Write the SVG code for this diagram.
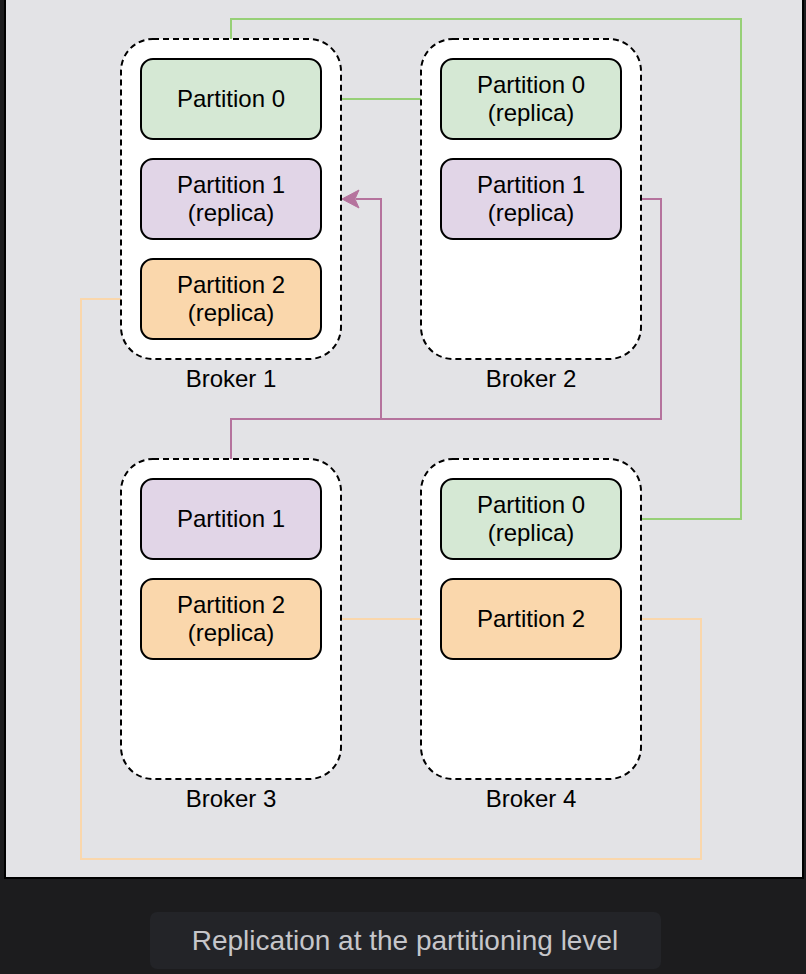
<svg xmlns="http://www.w3.org/2000/svg" width="806" height="974" viewBox="0 0 806 974">
<defs>
<style>
.broker{fill:#ffffff;stroke:#000000;stroke-width:2;stroke-dasharray:6 4}
.part{stroke:#000000;stroke-width:2}
.g{fill:#d5e8d4}
.p{fill:#e1d5e7}
.o{fill:#fad7ac}
.t{font-family:"Liberation Sans",Arial,Helvetica,sans-serif;font-size:24px;fill:#000000;text-anchor:middle}
.edge{fill:none;stroke-width:2}
</style>
</defs>
<rect x="0" y="0" width="806" height="974" fill="#1c1c1e"/>
<rect x="5" y="-2" width="798" height="880" fill="#e3e3e6" stroke="#000000" stroke-width="2"/>

<g id="connectors">
<path class="edge" stroke="#97d077" d="M231 39 V19 H741 V519 H641"/>
<path class="edge" stroke="#97d077" d="M341 99 H421"/>
<path class="edge" stroke="#b5739d" d="M641 199 H661 V419 H381"/>
<path class="edge" stroke="#b5739d" d="M231 459 V419 H381 V199 H356"/>
<path fill="#b5739d" stroke="#b5739d" stroke-width="1" d="M342 199 L359 190 L355 199 L359 208 Z"/>
<path class="edge" stroke="#fad7ac" d="M121 299 H81 V859 H701 V619 H641"/>
<path class="edge" stroke="#fad7ac" d="M341 619 H421"/>
</g>

<g id="broker1">
<rect class="broker" x="121" y="39" width="220" height="320" rx="32"/>
<text class="t" x="231" y="387">Broker 1</text>
</g>
<g id="broker2">
<rect class="broker" x="421" y="39" width="220" height="320" rx="32"/>
<text class="t" x="531" y="387">Broker 2</text>
</g>
<g id="broker3">
<rect class="broker" x="121" y="459" width="220" height="320" rx="32"/>
<text class="t" x="231" y="807">Broker 3</text>
</g>
<g id="broker4">
<rect class="broker" x="421" y="459" width="220" height="320" rx="32"/>
<text class="t" x="531" y="807">Broker 4</text>
</g>

<g id="b1-p0">
<rect class="part g" x="141" y="59" width="180" height="80" rx="12"/>
<text class="t" x="231" y="107">Partition 0</text>
</g>
<g id="b1-p1">
<rect class="part p" x="141" y="159" width="180" height="80" rx="12"/>
<text class="t" x="231" y="193">Partition 1</text>
<text class="t" x="231" y="221">(replica)</text>
</g>
<g id="b1-p2">
<rect class="part o" x="141" y="259" width="180" height="80" rx="12"/>
<text class="t" x="231" y="293">Partition 2</text>
<text class="t" x="231" y="321">(replica)</text>
</g>

<g id="b2-p0">
<rect class="part g" x="441" y="59" width="180" height="80" rx="12"/>
<text class="t" x="531" y="93">Partition 0</text>
<text class="t" x="531" y="121">(replica)</text>
</g>
<g id="b2-p1">
<rect class="part p" x="441" y="159" width="180" height="80" rx="12"/>
<text class="t" x="531" y="193">Partition 1</text>
<text class="t" x="531" y="221">(replica)</text>
</g>

<g id="b3-p1">
<rect class="part p" x="141" y="479" width="180" height="80" rx="12"/>
<text class="t" x="231" y="527">Partition 1</text>
</g>
<g id="b3-p2">
<rect class="part o" x="141" y="579" width="180" height="80" rx="12"/>
<text class="t" x="231" y="613">Partition 2</text>
<text class="t" x="231" y="641">(replica)</text>
</g>

<g id="b4-p0">
<rect class="part g" x="441" y="479" width="180" height="80" rx="12"/>
<text class="t" x="531" y="513">Partition 0</text>
<text class="t" x="531" y="541">(replica)</text>
</g>
<g id="b4-p2">
<rect class="part o" x="441" y="579" width="180" height="80" rx="12"/>
<text class="t" x="531" y="627">Partition 2</text>
</g>

<g id="caption">
<rect x="150" y="912" width="511" height="57" rx="7" fill="#232428"/>
<text x="405" y="950" font-family="'Liberation Sans',Arial,Helvetica,sans-serif" font-size="28" fill="#c6c6ca" text-anchor="middle">Replication at the partitioning level</text>
</g>
</svg>
